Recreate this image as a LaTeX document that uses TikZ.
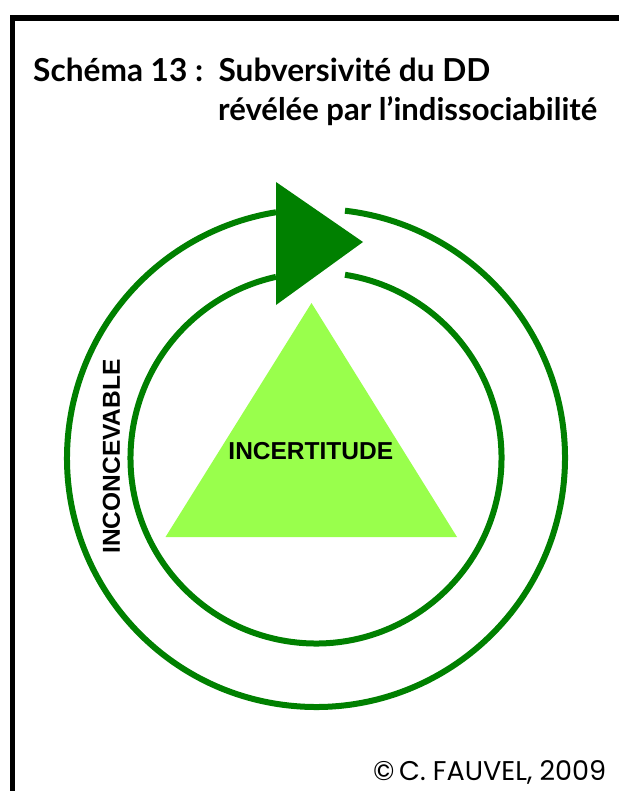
\documentclass[tikz,border=0pt]{standalone}
\usepackage{fontspec}
\setmainfont{Liberation Sans}
\newfontfamily\titlefont{Lato}
\newfontfamily\copyfont{Poppins}
\newfontfamily\labelfont{Liberation Sans}
\usepackage{graphicx}
\usetikzlibrary{calc}
\definecolor{ringgreen}{RGB}{0,128,0}
\definecolor{lightgreen}{RGB}{153,255,76}
\tikzset{
  ring/.style={draw=ringgreen, line width=6pt},
  frameline/.style={draw=black, line width=5.5pt, line join=miter},
  bigtxt/.style={inner sep=0pt, font=\labelfont\bfseries\fontsize{24.5}{28}\selectfont}
}
\begin{document}
\begin{tikzpicture}[x=1pt,y=-1pt]
\useasboundingbox (0,0) rectangle (618,791);
% frame
\draw[frameline] (12.5,800) -- (12.5,18) -- (630,18);
% title
\node[anchor=base west, inner sep=0pt] (t1) at (33,82)
  {\resizebox{457pt}{!}{\titlefont\bfseries Schéma 13 :\ \ Subversivité du DD}};
\node[anchor=base west, inner sep=0pt] (t2) at (218,121)
  {\resizebox{379pt}{!}{\titlefont\bfseries révélée par l’indissociabilité}};
% rings
\coordinate (c) at (316,458);
\draw[ring] ($(c)+({-acos(29/249)}:249)$) arc[start angle={-acos(29/249)}, end angle={360-acos(-40/249)}, radius=249];
\draw[ring] ($(c)+({-acos(29/185.5)}:185.5)$) arc[start angle={-acos(29/185.5)}, end angle={360-acos(-40/185.5)}, radius=185.5];
% arrow triangle
\fill[ringgreen] (276,182) -- (276,305) -- (363,242) -- cycle;
% light triangle
\fill[lightgreen] (311.5,303) -- (165.5,537) -- (457,537) -- cycle;
% labels
\node[bigtxt] (inc) at (310.8,451) {INCERTITUDE};
\node[bigtxt, rotate=90] (inconc) at (111.5,456.5) {INCONCEVABLE};
% copyright
\node[anchor=base west, inner sep=0pt] (copy) at (373,780)
  {\resizebox{233pt}{!}{\copyfont ©\,C. FAUVEL, 2009}};
\end{tikzpicture}
\end{document}
